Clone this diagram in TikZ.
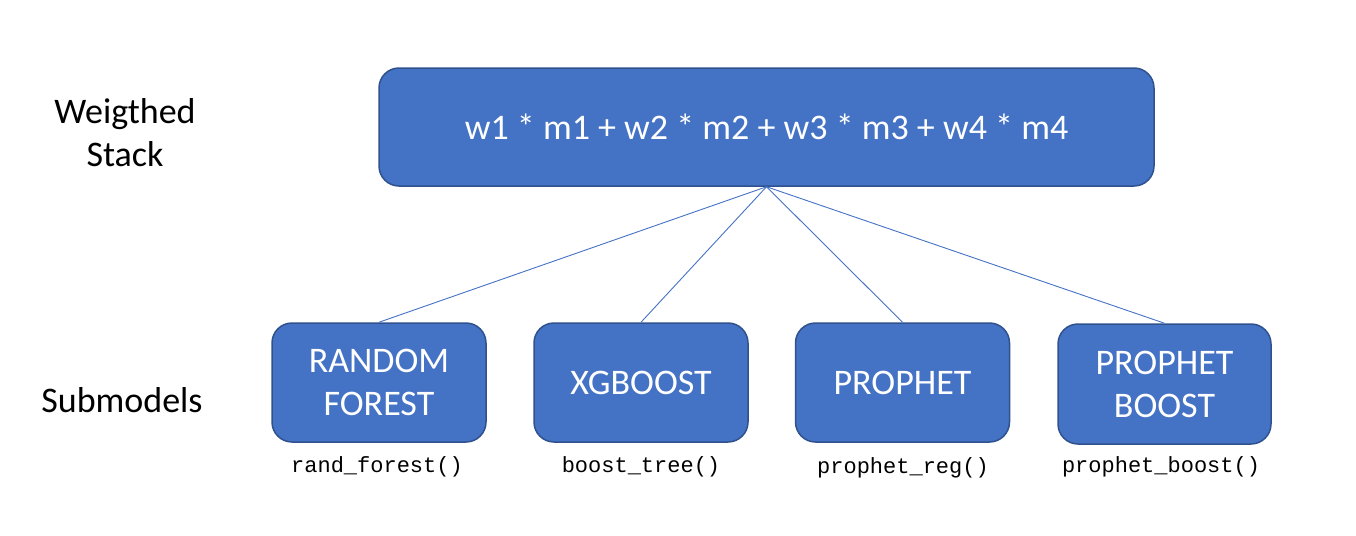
\documentclass[tikz,border=0pt]{standalone}
\usepackage{fontspec}
\setmainfont{Carlito}
\setmonofont{Liberation Mono}
\definecolor{boxfill}{HTML}{4472C4}
\definecolor{boxedge}{HTML}{2F528F}
\begin{document}
\begin{tikzpicture}[x=1pt,y=-1pt,
  model/.style={draw=boxedge,line width=1.5pt,fill=boxfill,rounded corners=20pt,
    text=white,align=center,font=\fontsize{36}{43}\selectfont,inner sep=0pt},
  sub/.style={model,minimum width=214pt,minimum height=119pt},
  side/.style={align=center,font=\fontsize{36}{43}\selectfont},
  code/.style={font=\ttfamily\fontsize{22}{26}\selectfont},
  link/.style={draw=boxfill,line width=0.9pt}]
\useasboundingbox (0,0) rectangle (1356,535);
\node[model,minimum width=775pt,minimum height=118pt] (top) at (766.5,127) {w1 * m1 + w2 * m2 + w3 * m3 + w4 * m4};
\node[sub] (rf) at (379,382.5) {RANDOM\\FOREST};
\node[sub] (xg) at (641,382.5) {XGBOOST};
\node[sub] (pr) at (902.5,382.5) {PROPHET};
\node[sub,minimum width=213pt,minimum height=120pt] (pb) at (1164.5,384) {PROPHET\\BOOST};
\draw[link] (top.south) -- (rf.north);
\draw[link] (top.south) -- (xg.north);
\draw[link] (top.south) -- (pr.north);
\draw[link] (top.south) -- (pb.north);
\node[side] (ws) at (125,133) {Weigthed\\Stack};
\node[side] (sm) at (122,400) {Submodels};
\node[code] (c1) at (377,467) {rand\_forest()};
\node[code] (c2) at (641,467) {boost\_tree()};
\node[code] (c3) at (903,468) {prophet\_reg()};
\node[code] (c4) at (1161,467) {prophet\_boost()};
\end{tikzpicture}
\end{document}
